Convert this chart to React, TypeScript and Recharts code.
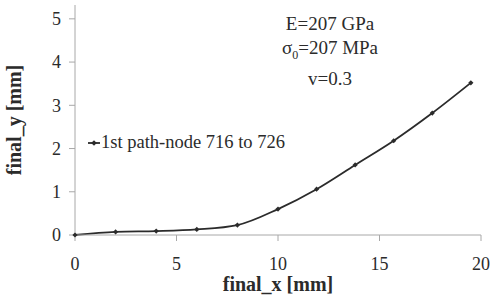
import { Label, Legend, Line, LineChart, XAxis, YAxis } from 'recharts';

const xValues = [0, 2, 4, 6, 8, 10, 11.9, 13.8, 15.7, 17.6, 19.5];
const yValues = [0, 0.07, 0.09, 0.13, 0.23, 0.6, 1.06, 1.62, 2.18, 2.82, 3.52];
const xTicks = [0, 5, 10, 15, 20];
const yTicks = [0, 1, 2, 3, 4, 5];
const seriesName = '1st path-node 716 to 726';
const notes = ['E=207 GPa', 'σ', 'v=0.3'];

const chartData = xValues.map((x, i) => ({ x, y: yValues[i] }));

const font = '"Liberation Serif", "Times New Roman", serif';
const ink = '#2b2b2b';
const axisGrey = '#a8a8a8';

const Diamond = (props: any) => {
    const { cx, cy } = props;
    if (cx == null || cy == null) return null;
    return (
        <path
            d={`M${cx},${cy - 2.6}L${cx + 2.6},${cy}L${cx},${cy + 2.6}L${cx - 2.6},${cy}Z`}
            fill={ink}
        />
    );
};

const LegendBox = (props: any) => {
    const items = props.payload || [];
    return (
        <div style={{ fontFamily: font, fontSize: 18.5, color: ink }}>
            {items.map((item: any) => (
                <div key={item.value} style={{ display: 'flex', alignItems: 'center' }}>
                    <svg width={12} height={10} style={{ marginRight: 1 }}>
                        <line x1={0} y1={5} x2={12} y2={5} stroke={ink} strokeWidth={1.8} />
                        <path d="M6,2.2L8.8,5L6,7.8L3.2,5Z" fill={ink} />
                    </svg>
                    <span>{item.value}</span>
                </div>
            ))}
        </div>
    );
};

export default function App() {
    return (
        <div
            style={{
                position: 'absolute',
                left: 0,
                top: 0,
                width: 494,
                height: 300,
                background: '#fff',
                fontFamily: font,
            }}
        >
            <LineChart
                width={494}
                height={300}
                data={chartData}
                margin={{ top: 5, right: 13, left: 0, bottom: 0 }}
            >
                <XAxis
                    dataKey="x"
                    type="number"
                    domain={[0, 20]}
                    ticks={xTicks}
                    height={65}
                    stroke={axisGrey}
                    tickSize={6}
                    tickMargin={16}
                    tick={{ fill: ink, fontSize: 18, fontFamily: font }}
                >
                    <Label
                        value="final_x [mm]"
                        position="insideBottom"
                        offset={9}
                        style={{ fill: ink, fontSize: 20, fontWeight: 'bold', fontFamily: font }}
                    />
                </XAxis>
                <YAxis
                    type="number"
                    domain={[0, 5.32]}
                    ticks={yTicks}
                    width={75}
                    stroke={axisGrey}
                    tickSize={6}
                    tickMargin={8}
                    tick={{ fill: ink, fontSize: 18, fontFamily: font }}
                >
                    <Label
                        value="final_y [mm]"
                        angle={-90}
                        position="insideLeft"
                        offset={14}
                        style={{
                            fill: ink,
                            fontSize: 20,
                            fontWeight: 'bold',
                            fontFamily: font,
                            textAnchor: 'middle',
                        }}
                    />
                </YAxis>
                <Legend
                    layout="horizontal"
                    align="center"
                    verticalAlign="middle"
                    content={<LegendBox />}
                    wrapperStyle={{
                        left: 88,
                        top: 132,
                        width: 'auto',
                    }}
                />
                <Line
                    type="monotone"
                    dataKey="y"
                    name={seriesName}
                    stroke={ink}
                    strokeWidth={1.8}
                    dot={<Diamond />}
                    activeDot={false}
                    isAnimationActive={false}
                />
            </LineChart>
            <div
                style={{
                    position: 'absolute',
                    left: 230,
                    top: 12,
                    width: 200,
                    textAlign: 'center',
                    fontSize: 19,
                    lineHeight: '24px',
                    color: ink,
                }}
            >
                <div>{notes[0]}</div>
                <div>
                    {notes[1]}
                    <sub style={{ fontSize: 12 }}>0</sub>=207 MPa
                </div>
                <div>{notes[2]}</div>
            </div>
        </div>
    );
}
